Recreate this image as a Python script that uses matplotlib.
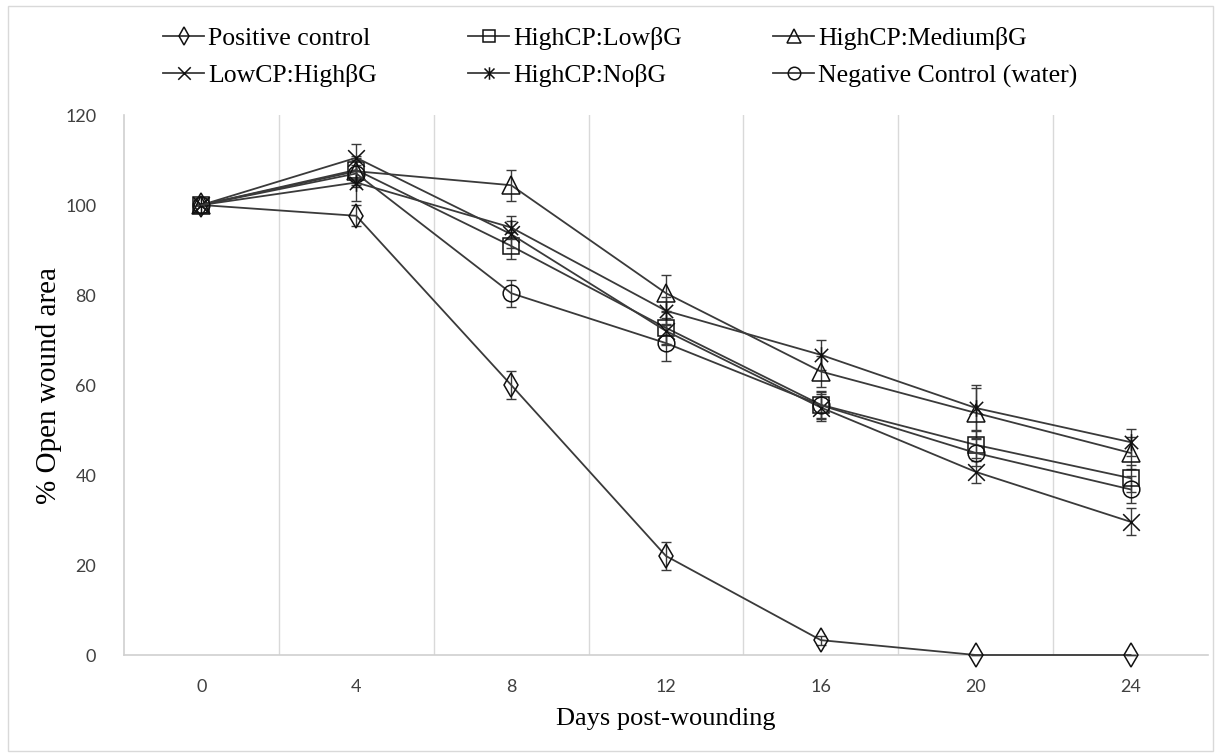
import matplotlib
matplotlib.use("Agg")
import matplotlib.pyplot as plt
import numpy as np
from matplotlib.path import Path
from matplotlib.patches import Rectangle

days = ["0", "4", "8", "12", "16", "20", "24"]

positive_control = [100, 97.6, 60, 22, 3.3, 0, 0]
positive_err = [0, 2.3, 3.2, 3.2, 1.0, 0, 0]

high_low = [100, 107.8, 90.9, 72.7, 55.6, 46.7, 39.3]
high_low_err = [0, 3, 3, 3.5, 3, 3, 3]

high_medium = [100, 107.5, 104.4, 80.4, 63, 53.8, 44.9]
high_medium_err = [0, 3, 3.4, 4, 3.5, 5.5, 3.5]

low_high = [100, 110.5, 93.5, 72, 55, 40.7, 29.6]
low_high_err = [0, 3, 3, 3, 3, 2.5, 3]

high_no = [100, 105, 95, 76.5, 66.7, 54.9, 47.3]
high_no_err = [0, 4, 2.5, 3, 3.3, 5, 3]

negative = [100, 107, 80.4, 69.3, 55.5, 44.9, 36.8]
negative_err = [0, 3, 3, 4, 3, 3, 3]

labels = ["Positive control", "HighCP:LowβG", "HighCP:MediumβG",
          "LowCP:HighβG", "HighCP:NoβG", "Negative Control (water)"]

star = Path([(-1, -1), (1, 1), (-1, 1), (1, -1), (0, -1.25), (0, 1.25)],
            [Path.MOVETO, Path.LINETO, Path.MOVETO, Path.LINETO, Path.MOVETO, Path.LINETO])
xmark = Path([(-1, -1), (1, 1), (-1, 1), (1, -1)],
             [Path.MOVETO, Path.LINETO, Path.MOVETO, Path.LINETO])

series = [
    (positive_control, positive_err, "d", 12),
    (high_low, high_low_err, "s", 12),
    (high_medium, high_medium_err, "^", 13),
    (low_high, low_high_err, xmark, 12),
    (high_no, high_no_err, star, 12),
    (negative, negative_err, "o", 12),
]

fig = plt.figure(figsize=(12.21, 7.55), dpi=100)
ax = fig.add_axes([124 / 1221, 100 / 755, (1208 - 124) / 1221, (655 - 115) / 755])

x = np.arange(len(days))
col = "#3a3a3a"
handles = []
for (vals, err, mk, ms), lab in zip(series, labels):
    eb = ax.errorbar(x, vals, yerr=err, fmt="none", ecolor=col, elinewidth=1.0,
                     capsize=3.5, capthick=1.0, zorder=3)
    for art in eb.lines[1] + eb.lines[2]:
        art.set_clip_on(False)
    h, = ax.plot(x, vals, color=col, lw=1.3, marker=mk, markersize=ms,
                 markerfacecolor="none", markeredgecolor="#111111",
                 markeredgewidth=1.1, label=lab, zorder=4, clip_on=False)
    handles.append(h)

ax.set_xlim(-0.5, len(days) - 0.5)
ax.set_ylim(0, 120)
ax.set_xticks(x)
ax.set_xticklabels(days)
ax.set_yticks(np.arange(0, 121, 20))
for b in np.arange(0.5, len(days) - 0.5, 1):
    ax.axvline(b, color="#d9d9d9", lw=1.0, zorder=0)

for s in ["top", "right"]:
    ax.spines[s].set_visible(False)
for s in ["left", "bottom"]:
    ax.spines[s].set_color("#d0d0d0")
    ax.spines[s].set_linewidth(1.2)
ax.tick_params(length=0, labelsize=13, colors="#404040")
ax.tick_params(axis="x", pad=17)
ax.tick_params(axis="y", pad=20)
for t in ax.get_xticklabels() + ax.get_yticklabels():
    t.set_fontfamily(["Lato", "DejaVu Sans"])

ax.set_xlabel("Days post-wounding", fontfamily="Liberation Serif", fontsize=19, labelpad=10)
ax.set_ylabel("% Open wound area", fontfamily="Liberation Serif", fontsize=21, labelpad=2)

col_x = [163, 468, 773]
for c in range(3):
    idx = [c, c + 3]
    fig.legend([handles[i] for i in idx], [labels[i] for i in idx],
               ncol=1, loc="upper left",
               bbox_to_anchor=(col_x[c] / 1221, 1 - 27 / 755),
               frameon=False, prop={"family": "Liberation Serif", "size": 18.5},
               handlelength=1.6, handletextpad=0.15, markerscale=0.75,
               labelspacing=0.55, borderaxespad=0, borderpad=0)

fig.patches.append(Rectangle((8 / 1221, 4 / 755), 1205 / 1221, 745 / 755,
                             transform=fig.transFigure, fill=False,
                             edgecolor="#d9d9d9", lw=1.0))

fig.savefig("out.png", dpi=100)
